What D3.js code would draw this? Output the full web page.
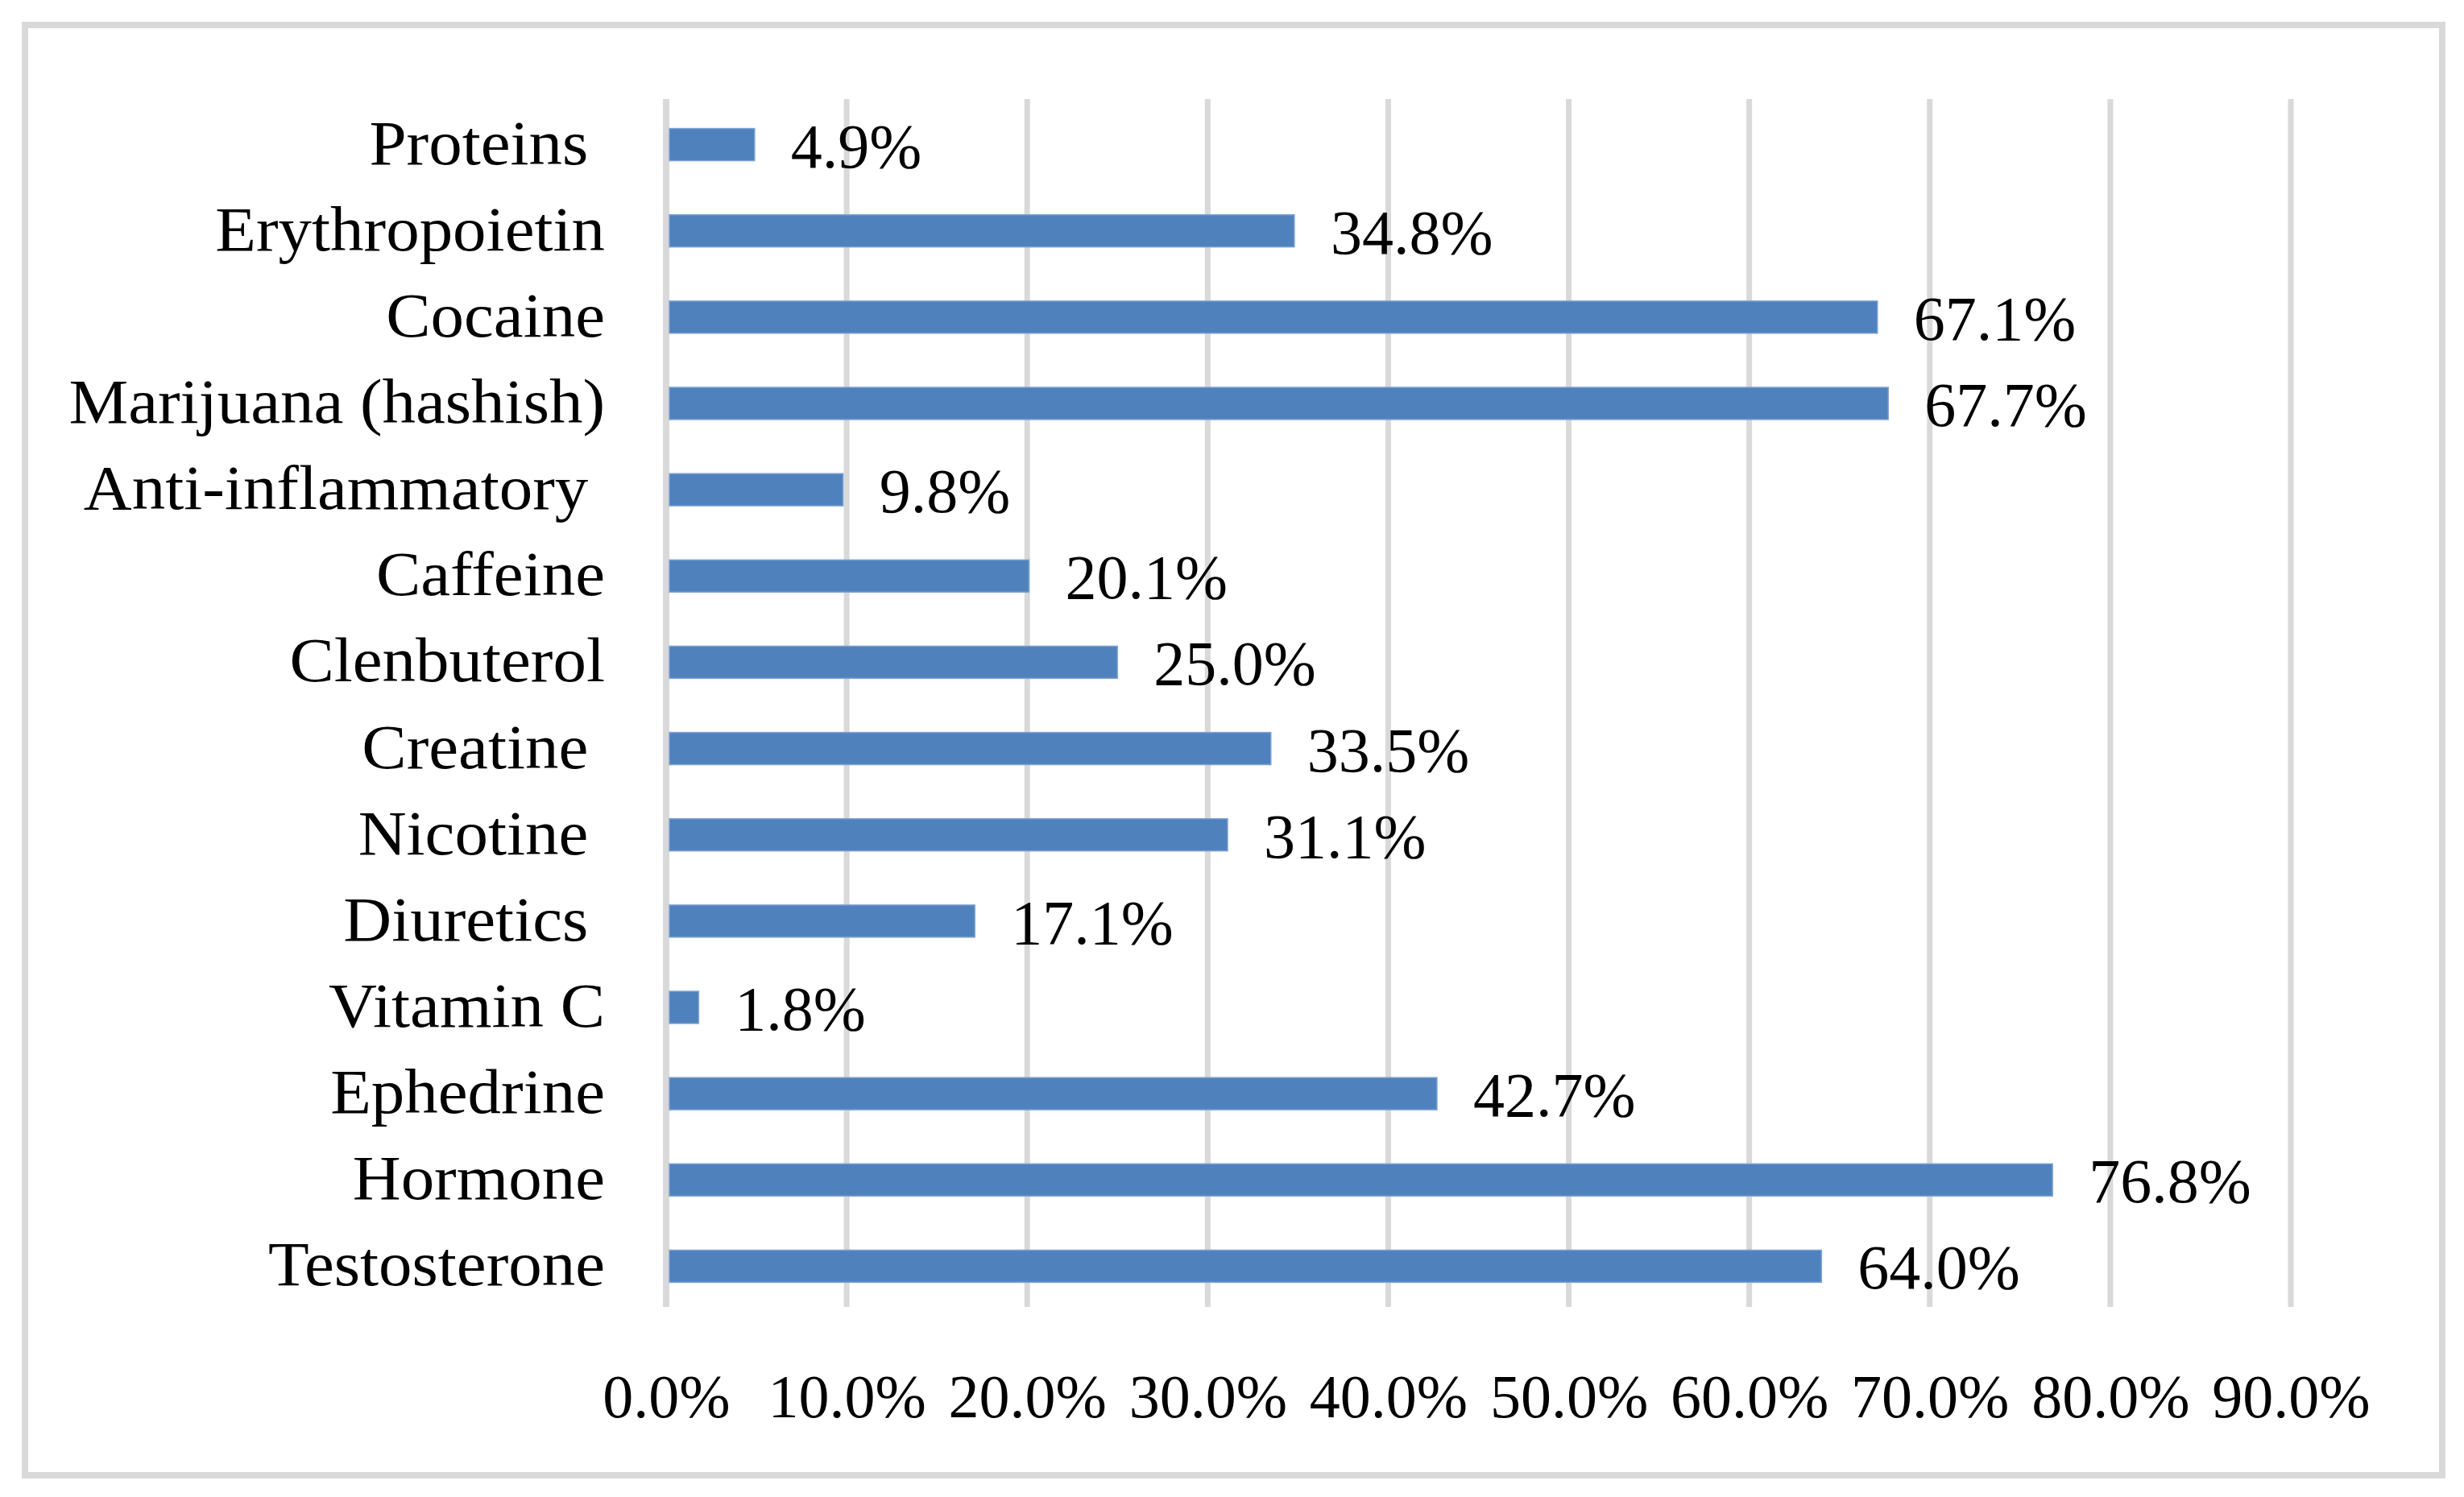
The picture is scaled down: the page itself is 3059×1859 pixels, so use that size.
<!DOCTYPE html>
<html lang="en">
<head>
<meta charset="utf-8">
<title>Substances bar chart</title>
<script src="https://cdn.jsdelivr.net/npm/d3@7"></script>
<style>
  html, body { margin: 0; padding: 0; background: #fff; }
  text { white-space: pre; }
</style>
</head>
<body>
<script>
// data (top to bottom as drawn)
var categories = [
    "Proteins ", "Erythropoietin", "Cocaine", "Marijuana (hashish)",
    "Anti-inflammatory ", "Caffeine", "Clenbuterol", "Creatine ",
    "Nicotine ", "Diuretics ", "Vitamin C", "Ephedrine", "Hormone", "Testosterone"
];
var values = [4.9, 34.8, 67.1, 67.7, 9.8, 20.1, 25.0, 33.5, 31.1, 17.1, 1.8, 42.7, 76.8, 64.0];
var tickValues = [0, 10, 20, 30, 40, 50, 60, 70, 80, 90];

var w = 3059;
var h = 1859;
var font = "'Liberation Serif', 'Times New Roman', serif";

var svg = d3.select("body")
        .append("svg")
        .attr("width", w)
        .attr("height", h);

svg.append("rect")
        .attr("x", 0).attr("y", 0)
        .attr("width", w).attr("height", h)
        .attr("fill", "#fff");

// outer frame
svg.append("rect")
        .attr("x", 31).attr("y", 31)
        .attr("width", 3001).attr("height", 1801)
        .attr("fill", "none")
        .attr("stroke", "#d9d9d9")
        .attr("stroke-width", 8);

var x = d3.scaleLinear().domain([0, 90]).range([827, 2844]);
var y = d3.scaleBand()
        .domain(categories)
        .range([126, 1626])
        .paddingInner(0.627)
        .paddingOuter(0.3135);

var plotTop = 123, plotBottom = 1623;

// gridlines
svg.append("g")
        .selectAll("line")
        .data(tickValues)
        .enter()
        .append("line")
        .attr("x1", function (d) { return x(d); })
        .attr("x2", function (d) { return x(d); })
        .attr("y1", plotTop)
        .attr("y2", plotBottom)
        .attr("stroke", "#d9d9d9")
        .attr("stroke-width", function (d) { return d === 0 ? 8 : 7; });

// bars
svg.append("g")
        .selectAll("rect")
        .data(values)
        .enter()
        .append("rect")
        .attr("x", x(0) + 4)
        .attr("y", function (d, i) { return y(categories[i]); })
        .attr("width", function (d) { return x(d) - x(0) - 4; })
        .attr("height", y.bandwidth())
        .attr("fill", "#4f81bd")
        .attr("stroke", "#7fa3d3")
        .attr("stroke-width", 1.5);

// value labels
svg.append("g")
        .selectAll("text")
        .data(values)
        .enter()
        .append("text")
        .text(function (d) { return d.toFixed(1) + "%"; })
        .attr("x", function (d) { return x(d) + 45; })
        .attr("y", function (d, i) { return y(categories[i]) + y.bandwidth() / 2 + 28; })
        .attr("font-family", font)
        .attr("font-size", "78px")
        .attr("fill", "#000");

// category labels (slightly stretched, the original face is wider)
svg.append("g")
        .attr("transform", "translate(751,0) scale(1.05,1)")
        .selectAll("text")
        .data(categories)
        .enter()
        .append("text")
        .text(function (d) { return d; })
        .attr("x", 0)
        .attr("y", function (d) { return y(d) + y.bandwidth() / 2 + 24; })
        .attr("text-anchor", "end")
        .attr("font-family", font)
        .attr("font-size", "79px")
        .attr("fill", "#000");

// x axis tick labels
var xAxis = d3.axisBottom(x)
        .tickValues(tickValues)
        .tickSize(0)
        .tickPadding(0)
        .tickFormat(function (d) { return d.toFixed(1) + "%"; });

var gx = svg.append("g")
        .attr("transform", "translate(0,1760)")
        .call(xAxis);
gx.select(".domain").remove();
gx.selectAll("text")
        .attr("dy", 0)
        .attr("y", 0)
        .attr("font-family", font)
        .attr("font-size", "76px")
        .attr("fill", "#000");
</script>
</body>
</html>
